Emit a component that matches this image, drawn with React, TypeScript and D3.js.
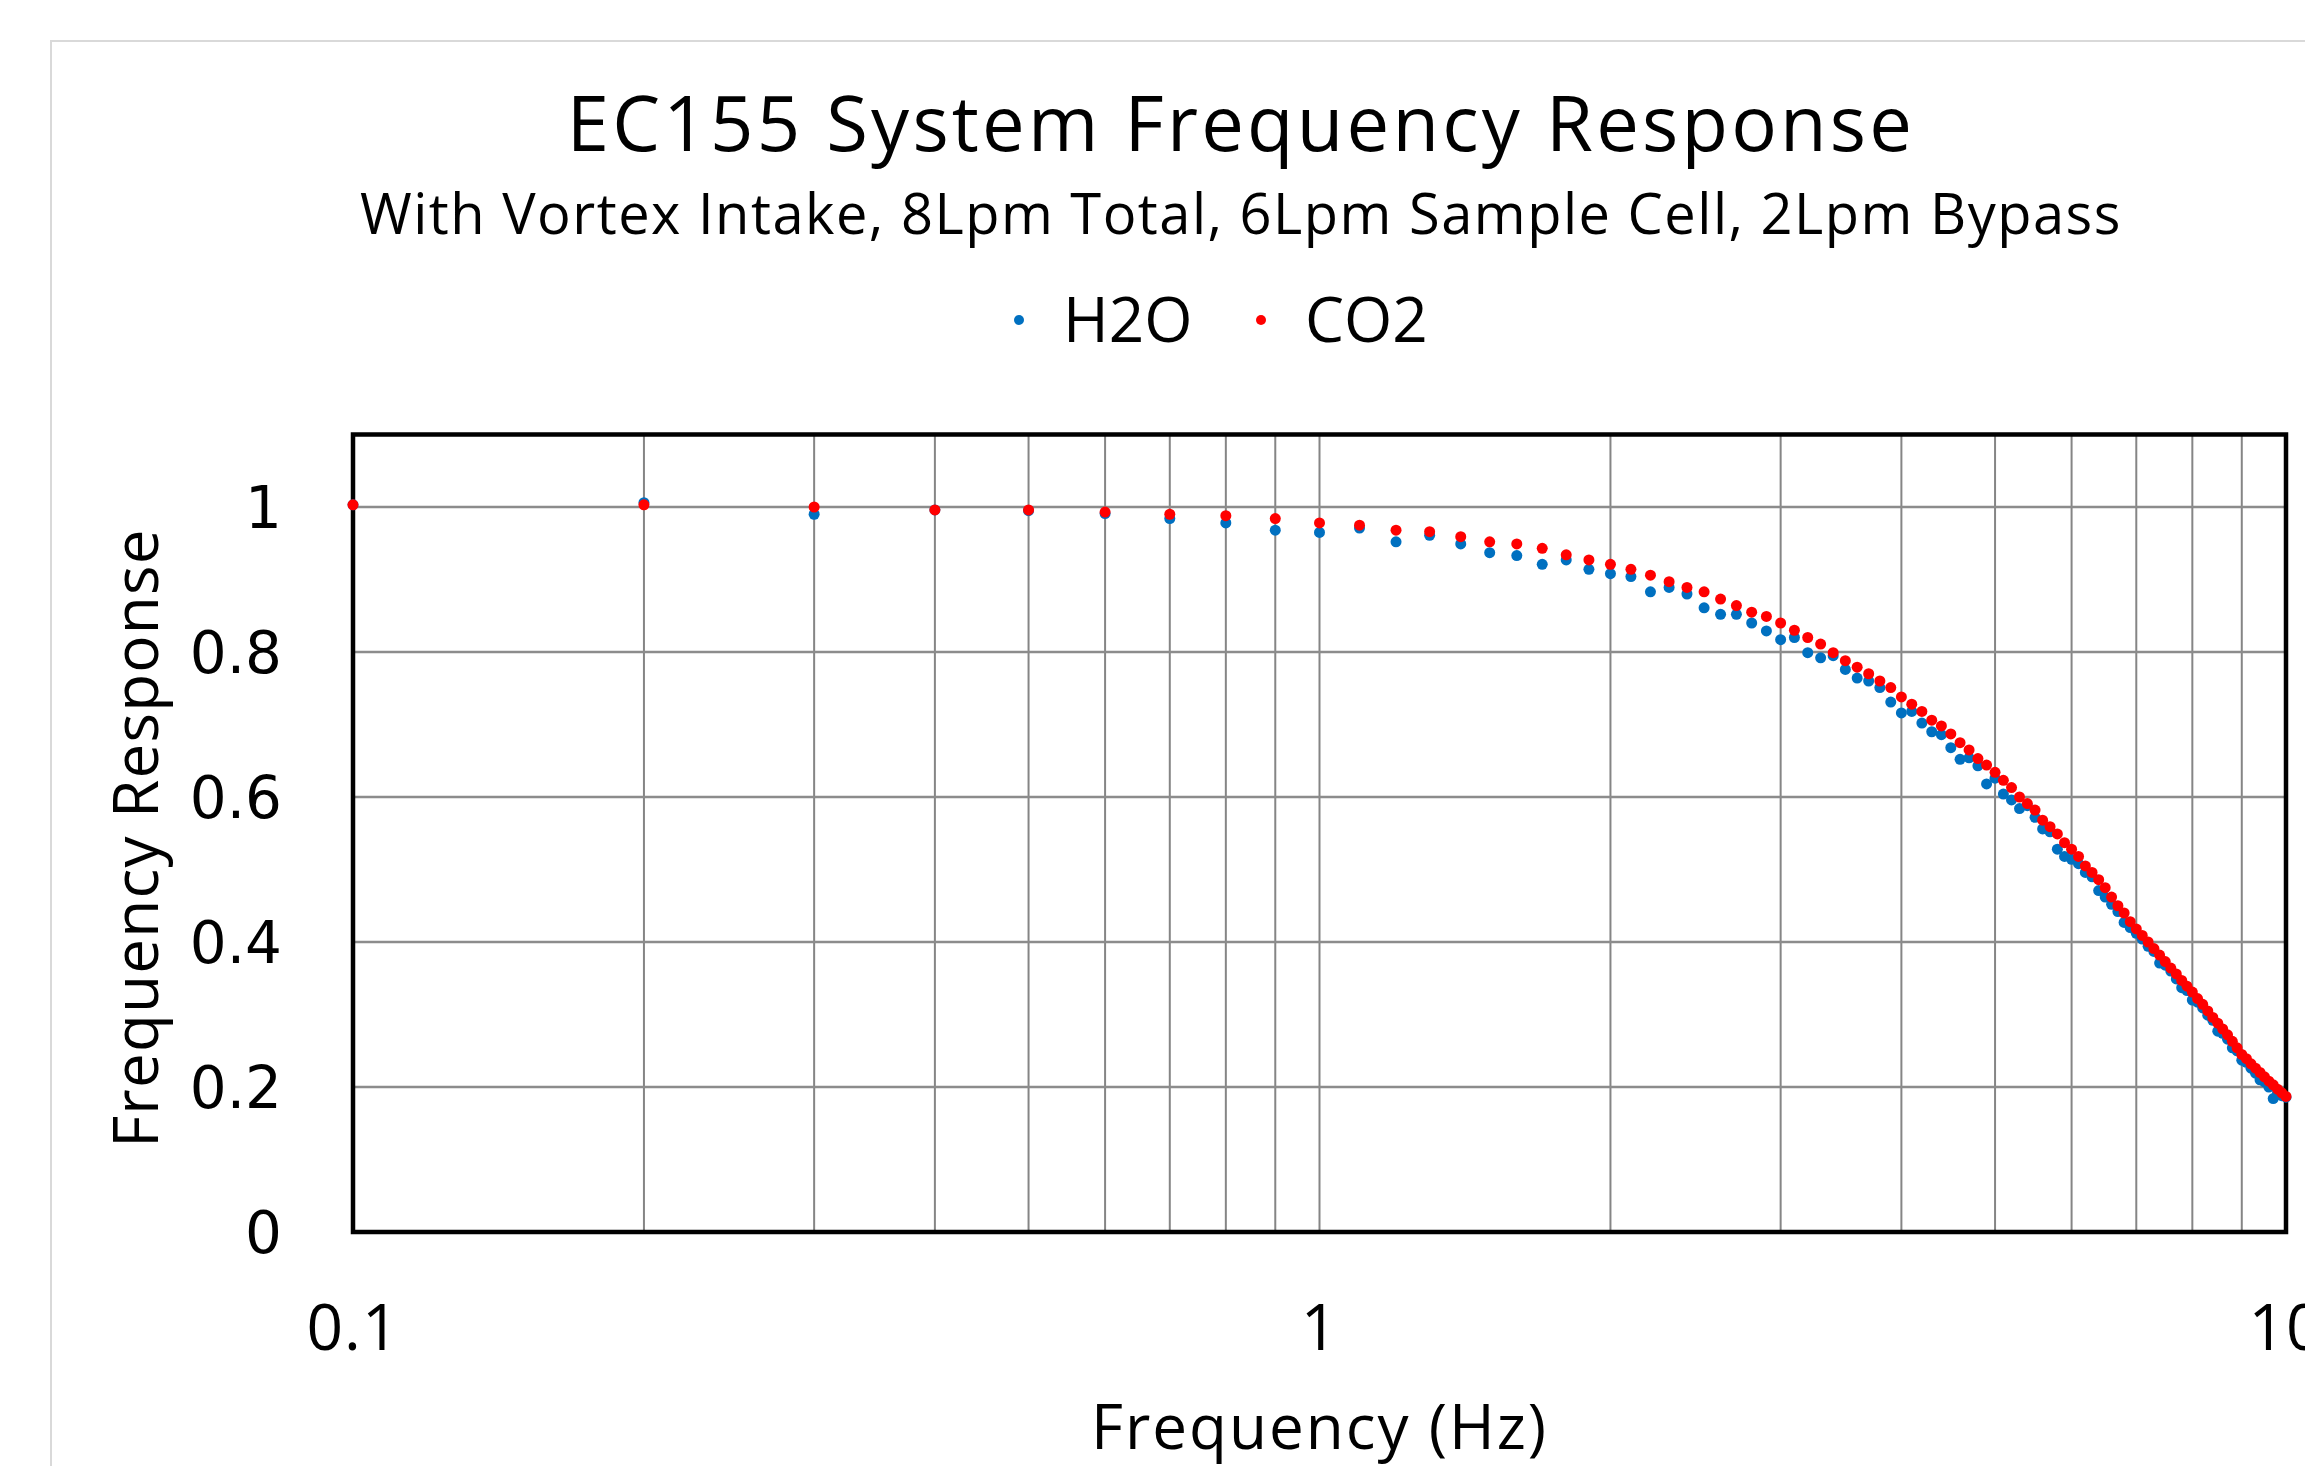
import { useEffect, useRef } from 'react';
import * as d3 from 'd3';

const WIDTH = 2305;
const HEIGHT = 1466;

// Frequency (Hz) of every measured point
const frequencies = [
  0.1, 0.2, 0.3, 0.4, 0.5, 0.6, 0.7, 0.8, 0.9, 1.0,
  1.1, 1.2, 1.3, 1.4, 1.5, 1.6, 1.7, 1.8, 1.9, 2.0,
  2.1, 2.2, 2.3, 2.4, 2.5, 2.6, 2.7, 2.8, 2.9, 3.0,
  3.1, 3.2, 3.3, 3.4, 3.5, 3.6, 3.7, 3.8, 3.9, 4.0,
  4.1, 4.2, 4.3, 4.4, 4.5, 4.6, 4.7, 4.8, 4.9, 5.0,
  5.1, 5.2, 5.3, 5.4, 5.5, 5.6, 5.7, 5.8, 5.9, 6.0,
  6.1, 6.2, 6.3, 6.4, 6.5, 6.6, 6.7, 6.8, 6.9, 7.0,
  7.1, 7.2, 7.3, 7.4, 7.5, 7.6, 7.7, 7.8, 7.9, 8.0,
  8.1, 8.2, 8.3, 8.4, 8.5, 8.6, 8.7, 8.8, 8.9, 9.0,
  9.1, 9.2, 9.3, 9.4, 9.5, 9.6, 9.7, 9.8, 9.9, 10.0,
];

const h2oResponse = [
  1.003, 1.006, 0.990, 0.996, 0.995, 0.991, 0.984, 0.978, 0.968, 0.965,
  0.971, 0.952, 0.961, 0.949, 0.937, 0.933, 0.921, 0.927, 0.914, 0.908,
  0.904, 0.883, 0.889, 0.880, 0.861, 0.852, 0.852, 0.840, 0.829, 0.817,
  0.820, 0.799, 0.792, 0.795, 0.776, 0.764, 0.760, 0.751, 0.731, 0.716,
  0.718, 0.702, 0.690, 0.686, 0.668, 0.652, 0.654, 0.643, 0.618, 0.626,
  0.604, 0.596, 0.584, 0.588, 0.572, 0.556, 0.552, 0.528, 0.518, 0.514,
  0.508, 0.496, 0.490, 0.471, 0.462, 0.452, 0.442, 0.427, 0.420, 0.412,
  0.404, 0.394, 0.387, 0.371, 0.368, 0.360, 0.349, 0.337, 0.333, 0.320,
  0.317, 0.309, 0.299, 0.292, 0.277, 0.274, 0.266, 0.254, 0.250, 0.237,
  0.234, 0.226, 0.219, 0.210, 0.207, 0.200, 0.184, 0.192, 0.188, 0.186,
];

const co2Response = [
  1.003, 1.003, 1.000, 0.996, 0.996, 0.993, 0.990, 0.988, 0.984, 0.978,
  0.975, 0.968, 0.966, 0.959, 0.952, 0.949, 0.943, 0.934, 0.927, 0.921,
  0.914, 0.906, 0.897, 0.889, 0.883, 0.873, 0.864, 0.855, 0.849, 0.840,
  0.830, 0.820, 0.811, 0.799, 0.788, 0.779, 0.770, 0.760, 0.751, 0.738,
  0.728, 0.718, 0.706, 0.698, 0.687, 0.675, 0.665, 0.653, 0.644, 0.634,
  0.623, 0.613, 0.600, 0.591, 0.582, 0.568, 0.559, 0.549, 0.537, 0.528,
  0.518, 0.505, 0.496, 0.486, 0.475, 0.462, 0.450, 0.440, 0.428, 0.418,
  0.409, 0.400, 0.391, 0.382, 0.373, 0.364, 0.356, 0.347, 0.339, 0.331,
  0.322, 0.314, 0.305, 0.296, 0.288, 0.280, 0.272, 0.263, 0.254, 0.245,
  0.239, 0.232, 0.226, 0.220, 0.214, 0.208, 0.203, 0.197, 0.192, 0.187,
];

const xTickValues = [0.1, 1, 10];
const xGridValues = [0.2, 0.3, 0.4, 0.5, 0.6, 0.7, 0.8, 0.9, 1, 2, 3, 4, 5, 6, 7, 8, 9];
const yTickValues = [0, 0.2, 0.4, 0.6, 0.8, 1];

const series = [
  { name: 'H2O', values: h2oResponse, color: '#0070C0' },
  { name: 'CO2', values: co2Response, color: '#FF0000' },
];

const FONT = "'Open Sans', sans-serif";

export default function App() {
  const svgRef = useRef<SVGSVGElement>(null);

  useEffect(() => {
    if (!svgRef.current) return;
    const svg = d3.select(svgRef.current);
    svg.selectAll('*').remove();

    const plot = { left: 353, right: 2286, top: 434.5, bottom: 1232 };

    const x = d3.scaleLog().domain([0.1, 10]).range([plot.left, plot.right]);
    const y = d3.scaleLinear().domain([0, 1.1]).range([plot.bottom, plot.top]);

    svg.append('rect').attr('width', WIDTH).attr('height', HEIGHT).attr('fill', '#fff');

    // chart area border (runs past the window on the right and bottom)
    svg
      .append('rect')
      .attr('x', 51)
      .attr('y', 41)
      .attr('width', WIDTH)
      .attr('height', HEIGHT)
      .attr('fill', 'none')
      .attr('stroke', '#D9D9D9')
      .attr('stroke-width', 2);

    // Titles
    svg
      .append('text')
      .attr('x', 1241)
      .attr('y', 151)
      .attr('text-anchor', 'middle')
      .attr('font-family', FONT)
      .attr('font-size', 76)
      .attr('letter-spacing', 3.2)
      .attr('fill', '#000')
      .text('EC155 System Frequency Response');

    svg
      .append('text')
      .attr('x', 1241)
      .attr('y', 234)
      .attr('text-anchor', 'middle')
      .attr('font-family', FONT)
      .attr('font-size', 56)
      .attr('letter-spacing', 1.5)
      .attr('fill', '#000')
      .text('With Vortex Intake, 8Lpm Total, 6Lpm Sample Cell, 2Lpm Bypass');

    // Legend
    const legendX = [1019, 1261];
    series.forEach((s, i) => {
      svg
        .append('circle')
        .attr('cx', legendX[i])
        .attr('cy', 320)
        .attr('r', 5)
        .attr('fill', s.color);
      svg
        .append('text')
        .attr('x', legendX[i] + 44)
        .attr('y', 342)
        .attr('font-family', FONT)
        .attr('font-size', 62)
        .attr('fill', '#000')
        .text(s.name);
    });

    // Grid
    const grid = svg.append('g');
    grid
      .selectAll('line.vgrid')
      .data(xGridValues)
      .join('line')
      .attr('class', 'vgrid')
      .attr('x1', (d) => x(d))
      .attr('x2', (d) => x(d))
      .attr('y1', plot.top)
      .attr('y2', plot.bottom)
      .attr('stroke', '#858585')
      .attr('stroke-width', 2);

    grid
      .selectAll('line.hgrid')
      .data(yTickValues.filter((d) => d > 0))
      .join('line')
      .attr('class', 'hgrid')
      .attr('x1', plot.left)
      .attr('x2', plot.right)
      .attr('y1', (d) => y(d))
      .attr('y2', (d) => y(d))
      .attr('stroke', '#8C8C8C')
      .attr('stroke-width', 2.5);

    // Plot border
    svg
      .append('rect')
      .attr('x', plot.left)
      .attr('y', plot.top)
      .attr('width', plot.right - plot.left)
      .attr('height', plot.bottom - plot.top)
      .attr('fill', 'none')
      .attr('stroke', '#000')
      .attr('stroke-width', 4.5);

    // Y tick labels
    svg
      .append('g')
      .selectAll('text')
      .data(yTickValues)
      .join('text')
      .attr('x', 282)
      .attr('y', (d) => y(d))
      .attr('dy', '0.36em')
      .attr('text-anchor', 'end')
      .attr('font-family', "'DejaVu Sans', sans-serif")
      .attr('font-size', 58)
      .attr('fill', '#000')
      .text((d) => String(d));

    // X tick labels
    svg
      .append('g')
      .selectAll('text')
      .data(xTickValues)
      .join('text')
      .attr('x', (d) => x(d))
      .attr('y', 1350)
      .attr('text-anchor', 'middle')
      .attr('font-family', FONT)
      .attr('font-size', 64)
      .attr('letter-spacing', 1)
      .attr('fill', '#000')
      .text((d) => String(d));

    // Axis titles
    svg
      .append('text')
      .attr('x', (plot.left + plot.right) / 2)
      .attr('y', 1449)
      .attr('text-anchor', 'middle')
      .attr('font-family', FONT)
      .attr('font-size', 62)
      .attr('letter-spacing', 2)
      .attr('fill', '#000')
      .text('Frequency (Hz)');

    svg
      .append('text')
      .attr('transform', 'translate(158,838) rotate(-90)')
      .attr('text-anchor', 'middle')
      .attr('font-family', FONT)
      .attr('font-size', 62)
      .attr('letter-spacing', 1.2)
      .attr('fill', '#000')
      .text('Frequency Response');

    // Points
    series.forEach((s) => {
      svg
        .append('g')
        .selectAll('circle')
        .data(frequencies.map((f, i) => ({ f, v: s.values[i] })))
        .join('circle')
        .attr('cx', (d) => x(d.f))
        .attr('cy', (d) => y(d.v))
        .attr('r', 5.5)
        .attr('fill', s.color);
    });
  }, []);

  return (
    <svg
      ref={svgRef}
      width={WIDTH}
      height={HEIGHT}
      style={{ position: 'absolute', left: 0, top: 0, display: 'block' }}
    />
  );
}
